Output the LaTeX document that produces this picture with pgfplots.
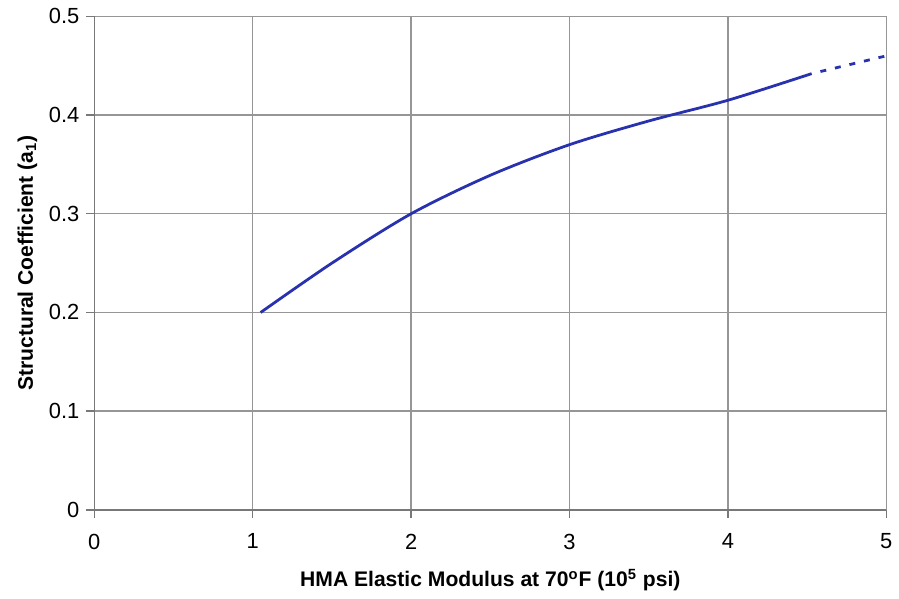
\documentclass[border={5.5pt 0pt 0pt 1pt}]{standalone}
\usepackage{pgfplots}
\pgfplotsset{compat=1.18}
\usepackage{fontspec}
\setmainfont{Liberation Sans}
\definecolor{curve}{RGB}{40,50,175}
\definecolor{gridc}{RGB}{150,150,150}
\begin{document}
\begin{tikzpicture}
\begin{axis}[
  scale only axis,
  width=398pt, height=248pt,
  xmin=0, xmax=5, ymin=0, ymax=0.5,
  xtick={0,1,2,3,4,5},
  ytick={0,0.1,0.2,0.3,0.4,0.5},
  yticklabel style={/pgf/number format/fixed,/pgf/number format/precision=1},
  /pgf/number format/assume math mode=true,
  tick label style={font=\fontsize{11}{13}\selectfont},
  grid=major,
  major grid style={gridc, line width=0.7pt},
  axis line style={gridc!80!black, line width=0.8pt},
  axis x line*=bottom, axis y line*=left,
  tick style={gridc!80!black, line width=0.7pt},
  tick align=outside,
  major tick length=4pt,
  xticklabel style={yshift=-4.5pt},
  xlabel={\bfseries HMA Elastic Modulus at 70\textsuperscript{o}F (10\textsuperscript{5} psi)},
  ylabel={\bfseries Structural Coefficient (a\textsubscript{1})},
  label style={font=\fontsize{10.6}{12}\selectfont\bfseries},
  xlabel style={yshift=-3pt},
  ylabel style={yshift=-1pt},
  clip=false,
]
\addplot[curve, line width=1.4pt, smooth] coordinates {
  (1.05,0.200) (1.5,0.250) (2.0,0.300) (2.5,0.339) (3.0,0.370)
  (3.5,0.394) (4.0,0.415) (4.529,0.442)
};
\addplot[curve, line width=1.4pt, dash pattern=on 3pt off 4.5pt, dash phase=3pt] coordinates {
  (4.529,0.442) (5.0,0.460)
};
\end{axis}
\end{tikzpicture}
\end{document}
